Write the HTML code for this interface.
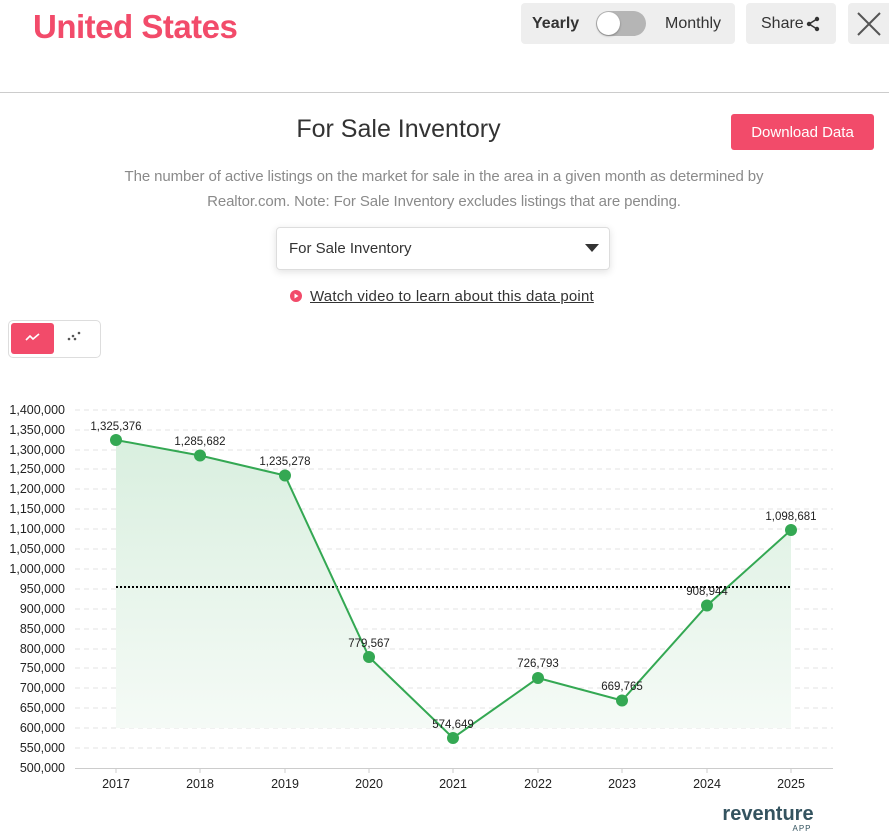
<!DOCTYPE html>
<html><head><meta charset="utf-8"><style>
body{margin:0;width:889px;height:839px;background:#fff;font-family:"Liberation Sans",sans-serif;overflow:hidden;position:relative}
.a{position:absolute}
</style></head><body>
<div class="a" style="left:33px;top:8px;font-size:33px;font-weight:bold;color:#f24b6a;letter-spacing:-0.5px">United States</div>
<div class="a" style="left:521px;top:3px;width:214px;height:41px;background:#eeeeee;border-radius:4px"></div>
<div class="a" style="left:532px;top:15px;font-size:16px;font-weight:bold;color:#333">Yearly</div>
<div class="a" style="left:596px;top:11px;width:50px;height:25px;background:#b5b5b5;border-radius:13px"></div>
<div class="a" style="left:597px;top:12px;width:23px;height:23px;background:#fff;border-radius:50%;box-shadow:0 1px 2px rgba(0,0,0,.3)"></div>
<div class="a" style="left:665px;top:15px;font-size:16px;color:#333">Monthly</div>
<div class="a" style="left:746px;top:3px;width:90px;height:41px;background:#eeeeee;border-radius:4px"></div>
<div class="a" style="left:761px;top:15px;font-size:16px;color:#333">Share</div>
<svg class="a" style="left:806px;top:16px" width="14" height="16"><circle cx="11" cy="3" r="2.2" fill="#333"/><circle cx="3" cy="8" r="2.2" fill="#333"/><circle cx="11" cy="13" r="2.2" fill="#333"/><path d="M11 3L3 8L11 13" stroke="#333" stroke-width="1.5" fill="none"/></svg>
<div class="a" style="left:848px;top:3px;width:45px;height:41px;background:#eeeeee;border-radius:4px"></div>
<svg class="a" style="left:857px;top:12px" width="24" height="24"><path d="M1 1L23 23M23 1L1 23" stroke="#555" stroke-width="2"/></svg>
<div class="a" style="left:0;top:92px;width:889px;height:1px;background:#ccc"></div>
<div class="a" style="left:0;top:115px;width:797px;text-align:center;font-size:25px;color:#333">For Sale Inventory</div>
<div class="a" style="left:731px;top:114px;width:143px;height:36px;background:#f24b6a;border-radius:3px;color:#fff;font-size:15px;line-height:37px;text-align:center">Download Data</div>
<div class="a" style="left:100px;top:164px;width:688px;text-align:center;font-size:15px;line-height:25px;color:#8a8a8a;letter-spacing:-0.1px">The number of active listings on the market for sale in the area in a given month as determined by Realtor.com. Note: For Sale Inventory excludes listings that are pending.</div>
<div class="a" style="left:276px;top:227px;width:332px;height:41px;border:1px solid #ddd;border-radius:4px;box-shadow:0 2px 8px rgba(0,0,0,.12)"></div>
<div class="a" style="left:289px;top:240px;font-size:15px;color:#333">For Sale Inventory</div>
<svg class="a" style="left:585px;top:244px" width="14" height="8"><path d="M0 0H14L7 8Z" fill="#333"/></svg>
<svg class="a" style="left:290px;top:290px" width="12" height="12"><circle cx="6" cy="6" r="6" fill="#f24b6a"/><path d="M4.5 3.5L8.5 6L4.5 8.5Z" fill="#fff"/></svg>
<div class="a" style="left:310px;top:288px;font-size:15px;color:#333;text-decoration:underline;letter-spacing:0.2px">Watch video to learn about this data point</div>
<div class="a" style="left:8px;top:320px;width:91px;height:36px;border:1px solid #ddd;border-radius:5px"></div>
<div class="a" style="left:11px;top:323px;width:43px;height:31px;background:#f24b6a;border-radius:3px"></div>
<svg class="a" style="left:25px;top:331px" width="16" height="12"><path d="M1 9L5 5L8 8L14 3" stroke="#fff" stroke-width="1.6" fill="none"/></svg>
<svg class="a" style="left:67px;top:330px" width="14" height="12"><circle cx="2" cy="9" r="1.3" fill="#555"/><circle cx="6" cy="6" r="1.3" fill="#555"/><circle cx="8" cy="9" r="1.3" fill="#555"/><circle cx="12" cy="3" r="1.3" fill="#555"/></svg>
<svg class="a" style="left:0;top:0" width="889" height="839">
<defs><linearGradient id="g" x1="0" y1="0" x2="0" y2="1"><stop offset="0" stop-color="#d9efdf"/><stop offset="1" stop-color="#f6fbf7"/></linearGradient></defs>
<g stroke="#e3e3e3" stroke-dasharray="5,4" stroke-width="1">
<line x1="75" x2="833" y1="410" y2="410"/><line x1="75" x2="833" y1="430" y2="430"/><line x1="75" x2="833" y1="450" y2="450"/><line x1="75" x2="833" y1="469" y2="469"/><line x1="75" x2="833" y1="489" y2="489"/><line x1="75" x2="833" y1="509" y2="509"/><line x1="75" x2="833" y1="529" y2="529"/><line x1="75" x2="833" y1="549" y2="549"/><line x1="75" x2="833" y1="569" y2="569"/><line x1="75" x2="833" y1="589" y2="589"/><line x1="75" x2="833" y1="609" y2="609"/><line x1="75" x2="833" y1="629" y2="629"/><line x1="75" x2="833" y1="649" y2="649"/><line x1="75" x2="833" y1="668" y2="668"/><line x1="75" x2="833" y1="688" y2="688"/><line x1="75" x2="833" y1="708" y2="708"/><line x1="75" x2="833" y1="728" y2="728"/><line x1="75" x2="833" y1="748" y2="748"/>
</g>
<g font-size="12.5" fill="#222" text-anchor="end">
<text x="65" y="414">1,400,000</text><text x="65" y="434">1,350,000</text><text x="65" y="454">1,300,000</text><text x="65" y="473">1,250,000</text><text x="65" y="493">1,200,000</text><text x="65" y="513">1,150,000</text><text x="65" y="533">1,100,000</text><text x="65" y="553">1,050,000</text><text x="65" y="573">1,000,000</text><text x="65" y="593">950,000</text><text x="65" y="613">900,000</text><text x="65" y="633">850,000</text><text x="65" y="653">800,000</text><text x="65" y="672">750,000</text><text x="65" y="692">700,000</text><text x="65" y="712">650,000</text><text x="65" y="732">600,000</text><text x="65" y="752">550,000</text><text x="65" y="772">500,000</text>
</g>
<path d="M116 440L200 455.5L285 475.5L369 657L453 738L538 678L622 700.5L707 605.5L791 530L791 728L116 728Z" fill="url(#g)"/>
<line x1="116" x2="791" y1="587" y2="587" stroke="#000" stroke-width="2" stroke-dasharray="2,2"/>
<path d="M116 440L200 455.5L285 475.5L369 657L453 738L538 678L622 700.5L707 605.5L791 530" stroke="#34a853" stroke-width="2" fill="none"/>
<g fill="#34a853"><circle cx="116" cy="440" r="6"/><circle cx="200" cy="455.5" r="6"/><circle cx="285" cy="475.5" r="6"/><circle cx="369" cy="657" r="6"/><circle cx="453" cy="738" r="6"/><circle cx="538" cy="678" r="6"/><circle cx="622" cy="700.5" r="6"/><circle cx="707" cy="605.5" r="6"/><circle cx="791" cy="530" r="6"/></g>
<g font-size="11.5" fill="#222" text-anchor="middle">
<text x="116" y="430">1,325,376</text><text x="200" y="445">1,285,682</text><text x="285" y="465">1,235,278</text><text x="369" y="647">779,567</text><text x="453" y="728">574,649</text><text x="538" y="667">726,793</text><text x="622" y="690">669,765</text><text x="707" y="595">908,944</text><text x="791" y="520">1,098,681</text>
</g>
<line x1="75" x2="833" y1="768.5" y2="768.5" stroke="#ccc"/>
<g stroke="#ccc"><line x1="116" x2="116" y1="768" y2="773"/><line x1="200" x2="200" y1="768" y2="773"/><line x1="285" x2="285" y1="768" y2="773"/><line x1="369" x2="369" y1="768" y2="773"/><line x1="453" x2="453" y1="768" y2="773"/><line x1="538" x2="538" y1="768" y2="773"/><line x1="622" x2="622" y1="768" y2="773"/><line x1="707" x2="707" y1="768" y2="773"/><line x1="791" x2="791" y1="768" y2="773"/></g>
<g font-size="12.5" fill="#222" text-anchor="middle">
<text x="116" y="788">2017</text><text x="200" y="788">2018</text><text x="285" y="788">2019</text><text x="369" y="788">2020</text><text x="453" y="788">2021</text><text x="538" y="788">2022</text><text x="622" y="788">2023</text><text x="707" y="788">2024</text><text x="791" y="788">2025</text>
</g>
<text x="768" y="820" font-size="20" font-weight="bold" fill="#34535f" text-anchor="middle">reventure</text>
<text x="802" y="831" font-size="8" fill="#34535f" text-anchor="middle" letter-spacing="1">APP</text>
</svg>
</body></html>
